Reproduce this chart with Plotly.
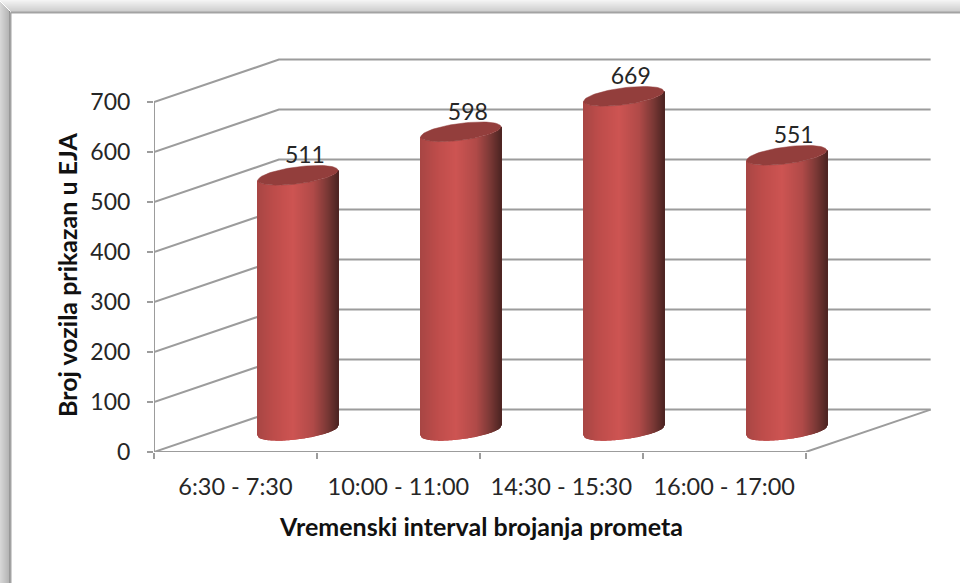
"""Cylinder-style column chart: vehicle counts per counting interval."""
import numpy as np
import plotly.graph_objects as go

intervals = ["6:30 - 7:30", "10:00 - 11:00", "14:30 - 15:30", "16:00 - 17:00"]
vozila = [511, 598, 669, 551]
y_ticks = [0, 100, 200, 300, 400, 500, 600, 700]

FONT = "Lato"
TEXT = "#262626"
GRID = "#9c9c9c"

# plot area in pixels
L, R, T, B = 154, 936, 52, 452
PX_X = (R - L) / 4.8
PX_Y = (B - T) / 800

# depth of the fake 3D box, in axis units
DEPTH_X = 0.767
DEPTH_Y = 84.8

# cylinder geometry
RAD_X = 40 / PX_X
RAD_Y = 8.5 / PX_Y
SHEAR = 5 / PX_Y
N_SLICES = 82


def px_x(p):
    return (p - L) / (R - L)


def px_y(p):
    return (B - p) / (B - T)


def side_colour(t):
    """Horizontal shading of the cylinder wall, t from -1 (left) to 1 (right)."""
    stops_t = [-1, -0.6, -0.1, 0.4, 0.75, 1]
    r = np.interp(t, stops_t, [168, 189, 205, 176, 122, 79])
    g = np.interp(t, stops_t, [70, 76, 84, 74, 56, 37])
    b = np.interp(t, stops_t, [68, 74, 82, 72, 53, 35])
    return f"rgb({r:.0f},{g:.0f},{b:.0f})"


fig = go.Figure()

for i, val in enumerate(vozila):
    cx = i + 0.5 + DEPTH_X / 2
    cy = DEPTH_Y / 2
    ts = np.linspace(-1, 1, N_SLICES)

    # wall, one thin bar per shade
    fig.add_trace(go.Bar(
        x=cx + RAD_X * ts,
        y=[val] * N_SLICES,
        base=cy + SHEAR * ts - RAD_Y * np.sqrt(1 - ts ** 2),
        width=2.6 * RAD_X / N_SLICES,
        marker=dict(color=[side_colour(t) for t in ts], line_width=0),
    ))

    # top cap
    a = np.linspace(0, 2 * np.pi, 80)
    fig.add_trace(go.Scatter(
        x=cx + RAD_X * np.cos(a),
        y=cy + val + SHEAR * np.cos(a) + RAD_Y * np.sin(a),
        mode="lines", fill="toself", fillcolor="#933e3c",
        line=dict(color="#933e3c", width=0.5),
    ))

    fig.add_trace(go.Scatter(
        x=[cx + 7 / PX_X], y=[cy + val + 18 / PX_Y],
        mode="text", text=[str(val)], textposition="middle center",
        textfont=dict(family=FONT, size=23, color=TEXT), cliponaxis=False,
    ))

shapes = []

# window shadow and frame
for k in range(10):
    shade = int(np.interp(k, [0, 8, 9], [214, 182, 140]))
    shapes.append(dict(type="rect", xref="paper", yref="paper", layer="below",
                       x0=px_x(k), x1=px_x(k + 1), y0=px_y(583), y1=px_y(k + 2),
                       fillcolor=f"rgb({shade},{shade},{shade})", line_width=0))
for k in range(12):
    shade = int(np.interp(k, [0, 11], [244, 205]))
    shapes.append(dict(type="rect", xref="paper", yref="paper", layer="below",
                       x0=px_x(k), x1=px_x(960), y0=px_y(k + 1), y1=px_y(k),
                       fillcolor=f"rgb({shade},{shade},{shade})", line_width=0))
frame = dict(color="#a3a3a3", width=2)
shapes.append(dict(type="line", xref="paper", yref="paper", layer="below",
                   x0=px_x(10.5), x1=px_x(960), y0=px_y(12.5), y1=px_y(12.5), line=frame))
shapes.append(dict(type="line", xref="paper", yref="paper", layer="below",
                   x0=px_x(10.5), x1=px_x(10.5), y0=px_y(583), y1=px_y(12.5), line=frame))

# back wall and side wall gridlines
grid_line = dict(color=GRID, width=2)
for v in y_ticks:
    shapes.append(dict(type="path", xref="x", yref="y", layer="below", line=grid_line,
                       path=f"M 0 {v} L {DEPTH_X} {v + DEPTH_Y} L {4 + DEPTH_X} {v + DEPTH_Y}"))
# front axes and floor edge
shapes.append(dict(type="line", xref="x", yref="y", layer="below", line=grid_line,
                   x0=0, x1=0, y0=0, y1=y_ticks[-1]))
shapes.append(dict(type="line", xref="x", yref="y", layer="below", line=grid_line,
                   x0=0, x1=4, y0=0, y1=0))
shapes.append(dict(type="line", xref="x", yref="y", layer="below", line=grid_line,
                   x0=4, x1=4 + DEPTH_X, y0=0, y1=DEPTH_Y))

fig.update_layout(
    width=960, height=583,
    margin=dict(l=L, r=960 - R, t=T, b=583 - B, autoexpand=False),
    paper_bgcolor="white", plot_bgcolor="rgba(0,0,0,0)",
    showlegend=False, barmode="overlay",
    shapes=shapes,
    font=dict(family=FONT, color=TEXT),
    xaxis=dict(
        range=[0, 4.8], showgrid=False, zeroline=False, showline=False,
        tickmode="array", tickvals=[0.5, 1.5, 2.5, 3.5], ticktext=intervals,
        ticks="", ticklabelstandoff=18, tickfont=dict(family=FONT, size=23.5, color=TEXT),
        minor=dict(tickmode="array", tickvals=[0, 1, 2, 3, 4], ticks="outside",
                   ticklen=6, tickwidth=2, tickcolor=GRID),
    ),
    yaxis=dict(
        range=[0, 800], showgrid=False, zeroline=False, showline=False,
        tickmode="array", tickvals=y_ticks, ticks="outside", ticklen=6, tickwidth=2,
        tickcolor=GRID, ticklabelstandoff=12, tickfont=dict(family=FONT, size=23, color=TEXT),
    ),
    annotations=[
        dict(text="<b>Vremenski interval brojanja prometa</b>", xref="paper", yref="paper",
             x=px_x(481), y=px_y(526), xanchor="center", yanchor="middle", showarrow=False,
             font=dict(family=FONT, size=25, color="#111111")),
        dict(text="<b>Broj vozila prikazan u EJA</b>", xref="paper", yref="paper",
             x=px_x(67), y=px_y(275), xanchor="center", yanchor="middle", showarrow=False,
             textangle=-90, font=dict(family=FONT, size=25, color="#111111")),
    ],
)

fig.write_html("out.html", post_script="document.body.style.margin='0';",
               config=dict(displayModeBar=False))
